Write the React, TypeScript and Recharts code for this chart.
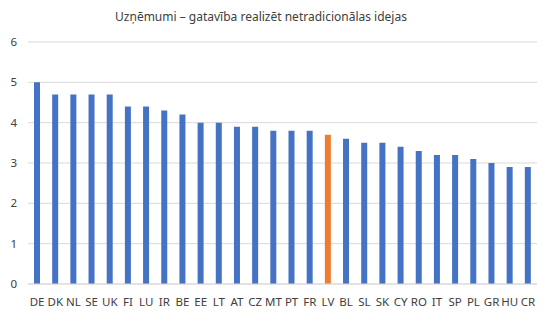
import { BarChart, Bar, Cell, XAxis, YAxis, CartesianGrid } from "recharts";

const countries = [
  "DE", "DK", "NL", "SE", "UK", "FI", "LU", "IR", "BE", "EE", "LT", "AT", "CZ", "MT",
  "PT", "FR", "LV", "BL", "SL", "SK", "CY", "RO", "IT", "SP", "PL", "GR", "HU", "CR",
];
const scores = [
  5.0, 4.7, 4.7, 4.7, 4.7, 4.4, 4.4, 4.3, 4.2, 4.0, 4.0, 3.9, 3.9, 3.8,
  3.8, 3.8, 3.7, 3.6, 3.5, 3.5, 3.4, 3.3, 3.2, 3.2, 3.1, 3.0, 2.9, 2.9,
];
const highlight = "LV";
const yTicks = [0, 1, 2, 3, 4, 5, 6];

const data = countries.map((name, i) => ({ name, value: scores[i] }));

const font = "'Noto Sans', sans-serif";

const App = () => (
  <div style={{ position: "absolute", left: 0, top: 0, width: 551, height: 316, background: "#fff", fontFamily: font }}>
    <BarChart width={551} height={316} data={data} margin={{ top: 42, right: 14, left: 0, bottom: 0 }} barCategoryGap={0}>
      <text x={261} y={21} textAnchor="middle" fontSize={12} fill="#404040" fontFamily={font}>
        Uzņēmumi – gatavība realizēt netradicionālas idejas
      </text>
      <CartesianGrid vertical={false} stroke="#d9d9d9" />
      <XAxis
        dataKey="name"
        interval={0}
        height={32}
        tickLine={false}
        axisLine={{ stroke: "#d9d9d9" }}
        tick={{ fontSize: 11.5, fill: "#404040", fontFamily: font }}
        tickMargin={8}
      />
      <YAxis
        width={28}
        domain={[0, 6]}
        ticks={yTicks}
        tickLine={false}
        axisLine={false}
        tick={{ fontSize: 11.5, fill: "#404040", fontFamily: font }}
        tickMargin={5}
      />
      <Bar dataKey="value" barSize={6} isAnimationActive={false}>
        {data.map((d) => (
          <Cell key={d.name} fill={d.name === highlight ? "#ed7d31" : "#4472c4"} />
        ))}
      </Bar>
    </BarChart>
  </div>
);

export default App;
